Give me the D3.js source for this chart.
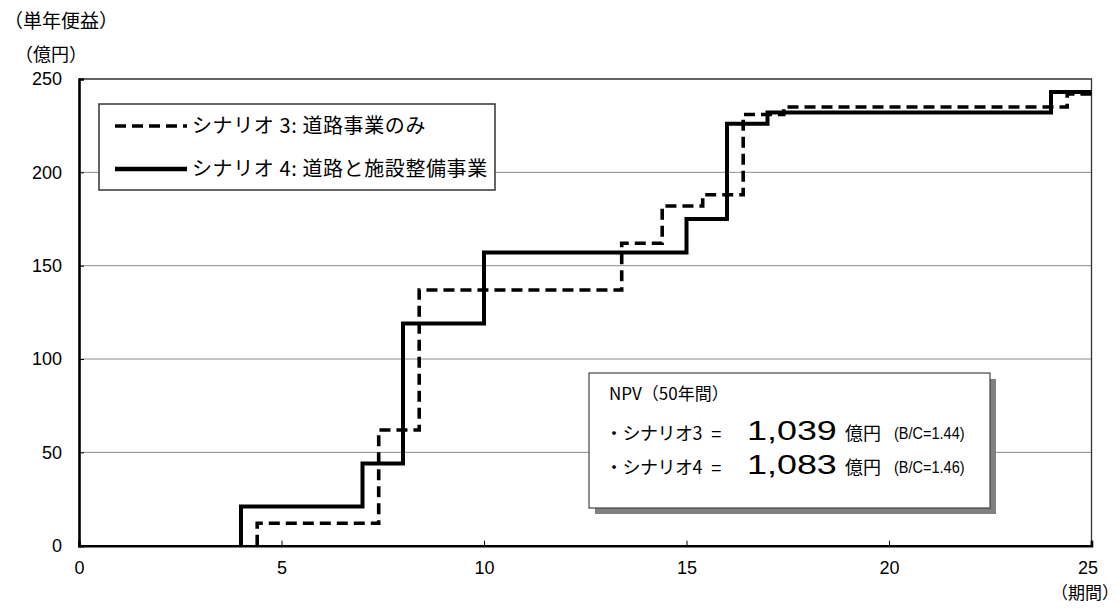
<!DOCTYPE html>
<html>
<head>
<meta charset="utf-8">
<script src="https://cdn.jsdelivr.net/npm/d3@7"></script>
<style>
  html, body { margin: 0; padding: 0; background: #fff; }
  svg { display: block; }
  text { fill: #000; }
</style>
</head>
<body>
<svg id="chart" width="1120" height="608"></svg>
<script>
// Scenario 4: roads and facility development (solid)
const periods4 = [4, 7, 8, 10, 15, 16, 17, 24];
const values4  = [21, 44, 119, 157, 175, 226, 232, 243];
// Scenario 3: road works only (dashed)
const periods3 = [4.4, 7.4, 8.4, 13.4, 14.4, 15.4, 16.4, 17.4, 24.4];
const values3  = [12, 62, 137, 162, 182, 188, 231, 235, 242];

const xTicks = [0, 5, 10, 15, 20, 25];
const yTicks = [0, 50, 100, 150, 200, 250];

const legendLabels = ["シナリオ 3: 道路事業のみ", "シナリオ 4: 道路と施設整備事業"];
const npvTitle = "NPV（50年間）";
const npvScenarios = ["シナリオ3", "シナリオ4"];
const npvValues = [1039, 1083];
const bcRatios = [1.44, 1.46];

const JP = "'Noto Sans CJK JP', 'Noto Sans', sans-serif";
const LAT = "'Liberation Sans', Arial, sans-serif";

const svg = d3.select("#chart");
const m = { left: 79, right: 1091.5, top: 79, bottom: 545.7 };

const x = d3.scaleLinear().domain([0, 25]).range([m.left, m.right]);
const y = d3.scaleLinear().domain([0, 250]).range([m.bottom, m.top]);

// horizontal gridlines
svg.append("g").selectAll("line")
  .data(yTicks.filter(v => v > 0 && v < 250))
  .join("line")
  .attr("x1", m.left).attr("x2", m.right)
  .attr("y1", d => y(d)).attr("y2", d => y(d))
  .attr("stroke", "#8c8c8c").attr("stroke-width", 1);

// plot frame (top and right)
svg.append("path")
  .attr("d", `M${m.left},${y(250)}H${m.right}V${m.bottom}`)
  .attr("fill", "none").attr("stroke", "#333").attr("stroke-width", 1.3);

// axes
const xAxis = d3.axisBottom(x).tickValues(xTicks).tickSize(-5).tickPadding(16).tickFormat(d3.format("d"));
const gx = svg.append("g").attr("transform", `translate(0,${m.bottom})`).call(xAxis);
gx.select(".domain").attr("stroke", "#000").attr("stroke-width", 2.6);
gx.selectAll(".tick line").attr("stroke", "#000").attr("stroke-width", 1);
gx.selectAll(".tick text").attr("font-family", LAT).attr("font-size", 18).attr("fill", "#000");
gx.selectAll(".tick text").filter(d => d === 25).attr("dx", "-4");

const yAxis = d3.axisLeft(y).tickValues(yTicks).tickSize(-5).tickPadding(17);
const gy = svg.append("g").attr("transform", `translate(${m.left},0)`).call(yAxis);
gy.select(".domain").attr("stroke", "#000").attr("stroke-width", 2.6);
gy.selectAll(".tick line").attr("stroke", "#000").attr("stroke-width", 1);
gy.selectAll(".tick text").attr("font-family", LAT).attr("font-size", 18).attr("fill", "#000");

// step lines
function stepPoints(ps, vs) {
  const pts = [[ps[0], 0]];
  ps.forEach((p, i) => pts.push([p, vs[i]]));
  pts.push([25, vs[vs.length - 1]]);
  return pts;
}
const line = d3.line().x(d => x(d[0])).y(d => y(d[1])).curve(d3.curveStepAfter);

svg.append("path")
  .datum(stepPoints(periods3, values3))
  .attr("d", line)
  .attr("fill", "none").attr("stroke", "#000").attr("stroke-width", 3.6)
  .attr("stroke-dasharray", "11,6").attr("stroke-linejoin", "miter");

svg.append("path")
  .datum(stepPoints(periods4, values4))
  .attr("d", line)
  .attr("fill", "none").attr("stroke", "#000").attr("stroke-width", 4)
  .attr("stroke-linejoin", "miter");

// axis titles
svg.append("text").attr("x", 4).attr("y", 28)
  .attr("font-family", JP).attr("font-size", 19).text("（単年便益）");
svg.append("text").attr("x", 15).attr("y", 61)
  .attr("font-family", JP).attr("font-size", 18).text("（億円）");
svg.append("text").attr("x", 1051).attr("y", 599)
  .attr("font-family", JP).attr("font-size", 17).text("（期間）");

// legend
const lg = svg.append("g");
lg.append("rect").attr("x", 99).attr("y", 104).attr("width", 396).attr("height", 86)
  .attr("fill", "#fff").attr("stroke", "#333").attr("stroke-width", 1.5);
const legendRows = [
  { label: legendLabels[0], dash: "11,6", w: 3.6, yy: 126 },
  { label: legendLabels[1], dash: null, w: 4.5, yy: 169 }
];
legendRows.forEach(r => {
  lg.append("line").attr("x1", 115).attr("x2", 187).attr("y1", r.yy).attr("y2", r.yy)
    .attr("stroke", "#000").attr("stroke-width", r.w)
    .attr("stroke-dasharray", r.dash);
  lg.append("text").attr("x", 192).attr("y", r.yy + 7)
    .attr("font-family", JP).attr("font-size", 20).attr("letter-spacing", 0.6)
    .text(r.label);
});

// NPV annotation box with drop shadow
const nb = svg.append("g");
nb.append("rect").attr("x", 595).attr("y", 379).attr("width", 401).attr("height", 135)
  .attr("fill", "#808080");
nb.append("rect").attr("x", 589).attr("y", 373).attr("width", 401).attr("height", 135)
  .attr("fill", "#fff").attr("stroke", "#444").attr("stroke-width", 1.2);
nb.append("text").attr("x", 609).attr("y", 400)
  .attr("font-family", JP).attr("font-size", 17).text(npvTitle);

npvScenarios.forEach((s, i) => {
  const by = 440 + i * 33.5;
  nb.append("text").attr("x", 605).attr("y", by)
    .attr("font-family", JP).attr("font-size", 18).attr("letter-spacing", -0.5)
    .text("・" + s);
  nb.append("text").attr("x", 711).attr("y", by)
    .attr("font-family", LAT).attr("font-size", 18).text("=");
  nb.append("text")
    .attr("transform", `translate(747,${by}) scale(1.33,1)`)
    .attr("font-family", LAT).attr("font-size", 27)
    .text(d3.format(",")(npvValues[i]));
  nb.append("text").attr("x", 845).attr("y", by)
    .attr("font-family", JP).attr("font-size", 18).text("億円");
  nb.append("text")
    .attr("transform", `translate(894,${by - 1}) scale(0.88,1)`)
    .attr("font-family", LAT).attr("font-size", 16.5)
    .text(`(B/C=${d3.format(".2f")(bcRatios[i])})`);
});
</script>
</body>
</html>
